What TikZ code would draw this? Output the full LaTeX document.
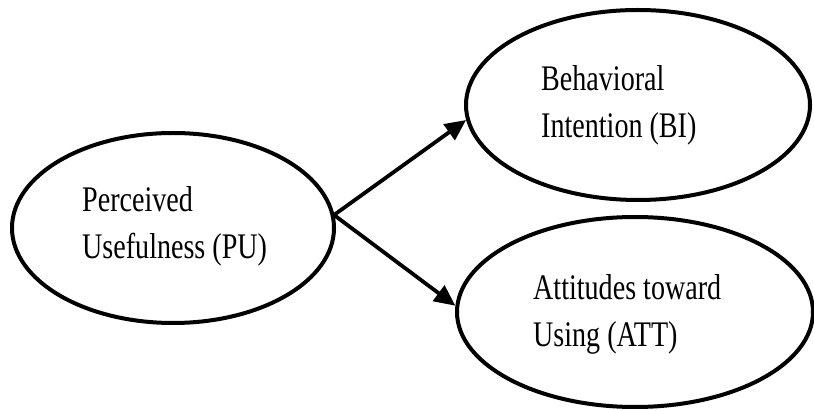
\documentclass[tikz,border=0pt]{standalone}
\usepackage{fontspec}
\setmainfont{Liberation Serif}[FakeStretch=0.78]
\usetikzlibrary{shapes.geometric,arrows.meta}
\begin{document}
\begin{tikzpicture}[x=1pt,y=-1pt,
  construct/.style={draw,ellipse,line width=4pt,inner sep=0pt},
  caption/.style={anchor=west,inner sep=0pt,align=left,
    font=\fontsize{36}{47}\selectfont},
  link/.style={line width=3.8pt,-{Triangle[length=21pt,width=19pt]}}]
  \useasboundingbox (0,0) rectangle (814,411);
  % constructs
  \node[construct,minimum width=322pt,minimum height=190pt] (pu)  at (173,228) {};
  \node[construct,minimum width=344pt,minimum height=190pt] (bi)  at (638,105) {};
  \node[construct,minimum width=356pt,minimum height=190pt] (att) at (635,312) {};
  % labels
  \node[caption] (pulbl)  at (82,226)  {Perceived\\Usefulness (PU)};
  \node[caption] (bilbl)  at (541,105) {Behavioral\\Intention (BI)};
  \node[caption] (attlbl) at (533,314) {Attitudes toward\\Using (ATT)};
  % paths
  \coordinate (src) at (334,215);
  \draw[link] (src) -- (bi.185);
  \draw[link] (src) -- (att.178);
\end{tikzpicture}
\end{document}
